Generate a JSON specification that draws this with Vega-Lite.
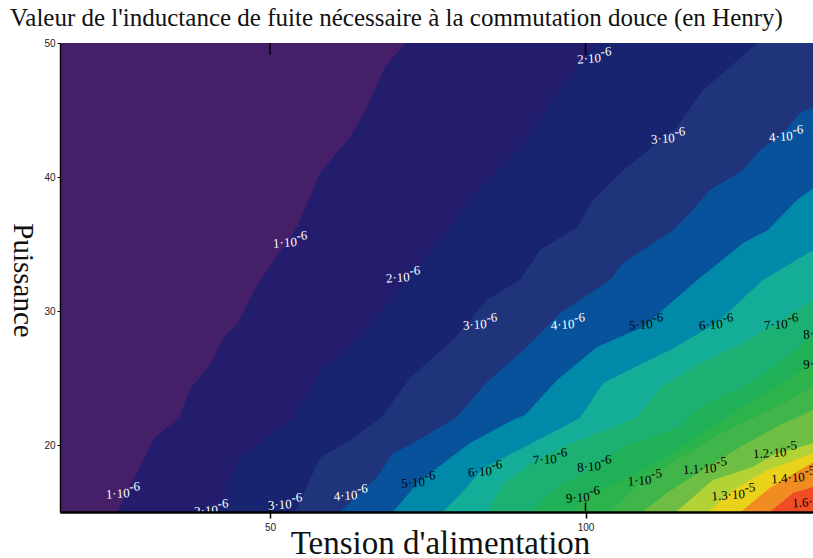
{"$schema":"https://vega.github.io/schema/vega-lite/v6.json","width":753,"height":469,"autosize":{"type":"none"},"padding":{"left":60,"top":43,"right":0,"bottom":46},"background":"white","config":{"view":{"stroke":"black","strokeWidth":1},"font":"Liberation Serif"},"title":{"text":"Valeur de l'inductance de fuite nécessaire à la commutation douce (en Henry)","font":"Liberation Serif","fontSize":25,"fontWeight":"normal","color":"#111111","anchor":"start","frame":"group","dx":-50,"dy":23,"offset":10,"baseline":"alphabetic"},
"datasets":{"bands":[
{"band":"b00","x":16.72,"y":50},{"band":"b00","x":136.05,"y":50},
{"band":"b01","x":25.75,"y":15},{"band":"b01","x":28.9,"y":17.91},{"band":"b01","x":31.5,"y":20.45},{"band":"b01","x":35.7,"y":22.09},{"band":"b01","x":37.2,"y":24.1},{"band":"b01","x":40.5,"y":25.97},{"band":"b01","x":42.6,"y":27.99},{"band":"b01","x":44.9,"y":29.1},{"band":"b01","x":47.9,"y":31.94},{"band":"b01","x":54.3,"y":36.27},{"band":"b01","x":57.9,"y":40.3},{"band":"b01","x":62.7,"y":42.99},{"band":"b01","x":65.4,"y":45.22},{"band":"b01","x":68.2,"y":48.21},{"band":"b01","x":71.4,"y":50},{"band":"b01","x":136.05,"y":50},
{"band":"b02","x":41.8,"y":15},{"band":"b02","x":45.2,"y":19.1},{"band":"b02","x":48.9,"y":20.37},{"band":"b02","x":53.6,"y":22.01},{"band":"b02","x":58.4,"y":25.75},{"band":"b02","x":64.3,"y":27.99},{"band":"b02","x":68.7,"y":30.6},{"band":"b02","x":72.2,"y":32.54},{"band":"b02","x":77.4,"y":35.52},{"band":"b02","x":82.8,"y":38.88},{"band":"b02","x":90.7,"y":42.76},{"band":"b02","x":94.8,"y":45.75},{"band":"b02","x":100.2,"y":49.1},{"band":"b02","x":101.7,"y":50},{"band":"b02","x":136.05,"y":50},
{"band":"b03","x":54,"y":15},{"band":"b03","x":57.9,"y":19.03},{"band":"b03","x":62.7,"y":20.37},{"band":"b03","x":67.7,"y":22.09},{"band":"b03","x":72.2,"y":25},{"band":"b03","x":79,"y":27.84},{"band":"b03","x":84.4,"y":30.82},{"band":"b03","x":89.6,"y":32.31},{"band":"b03","x":92.8,"y":34.55},{"band":"b03","x":98.7,"y":36.27},{"band":"b03","x":101.2,"y":38.28},{"band":"b03","x":105.5,"y":40.3},{"band":"b03","x":111.3,"y":42.54},{"band":"b03","x":114.5,"y":43.73},{"band":"b03","x":118.6,"y":46.49},{"band":"b03","x":122.9,"y":48.21},{"band":"b03","x":127.2,"y":50},{"band":"b03","x":136.05,"y":50},
{"band":"b04","x":61.1,"y":15},{"band":"b04","x":67,"y":17.61},{"band":"b04","x":69.5,"y":19.4},{"band":"b04","x":72.2,"y":20},{"band":"b04","x":79.6,"y":22.09},{"band":"b04","x":84.4,"y":24.7},{"band":"b04","x":90.7,"y":27.31},{"band":"b04","x":96,"y":29.85},{"band":"b04","x":103.9,"y":32.31},{"band":"b04","x":105.9,"y":33.58},{"band":"b04","x":113.9,"y":36.04},{"band":"b04","x":117,"y":37.54},{"band":"b04","x":119.7,"y":39.03},{"band":"b04","x":125,"y":40.52},{"band":"b04","x":127.7,"y":42.01},{"band":"b04","x":131.3,"y":43.28},{"band":"b04","x":134,"y":44.78},{"band":"b04","x":136.1,"y":45.22},
{"band":"b05","x":69.5,"y":15},{"band":"b05","x":73.5,"y":17.24},{"band":"b05","x":81.7,"y":20.15},{"band":"b05","x":88.5,"y":21.87},{"band":"b05","x":90.4,"y":22.24},{"band":"b05","x":95.5,"y":24.85},{"band":"b05","x":101.8,"y":27.31},{"band":"b05","x":109.1,"y":28.81},{"band":"b05","x":117.7,"y":32.31},{"band":"b05","x":125,"y":35.07},{"band":"b05","x":128.9,"y":36.04},{"band":"b05","x":133.5,"y":38.28},{"band":"b05","x":136.1,"y":39.18},
{"band":"b06","x":77.4,"y":15},{"band":"b06","x":81.2,"y":16.87},{"band":"b06","x":83.8,"y":18.28},{"band":"b06","x":88.5,"y":19.4},{"band":"b06","x":99.1,"y":22.01},{"band":"b06","x":102.8,"y":24.63},{"band":"b06","x":105.9,"y":25.37},{"band":"b06","x":113.4,"y":27.09},{"band":"b06","x":120.8,"y":29.1},{"band":"b06","x":128.1,"y":32.31},{"band":"b06","x":136.1,"y":34.55},
{"band":"b07","x":84.5,"y":15},{"band":"b07","x":86.9,"y":17.16},{"band":"b07","x":92.3,"y":18.88},{"band":"b07","x":96.4,"y":19.85},{"band":"b07","x":108.2,"y":22.09},{"band":"b07","x":111.8,"y":24.25},{"band":"b07","x":118.1,"y":26.12},{"band":"b07","x":125,"y":27.61},{"band":"b07","x":130.3,"y":29.1},{"band":"b07","x":136.1,"y":30.82},
{"band":"b08","x":91.2,"y":15},{"band":"b08","x":95.5,"y":16.87},{"band":"b08","x":100.7,"y":18.13},{"band":"b08","x":105.9,"y":19.85},{"band":"b08","x":115,"y":21.34},{"band":"b08","x":118.1,"y":22.84},{"band":"b08","x":125,"y":24.33},{"band":"b08","x":130.3,"y":25.97},{"band":"b08","x":136.1,"y":28.21},
{"band":"b09","x":98,"y":15},{"band":"b09","x":99.6,"y":16.12},{"band":"b09","x":107.1,"y":17.61},{"band":"b09","x":114.5,"y":19.63},{"band":"b09","x":123.4,"y":22.39},{"band":"b09","x":136.1,"y":26.12},
{"band":"b10","x":103.9,"y":15},{"band":"b10","x":109.4,"y":17.54},{"band":"b10","x":114.5,"y":18.88},{"band":"b10","x":122.4,"y":21.12},{"band":"b10","x":130.3,"y":22.84},{"band":"b10","x":136.1,"y":24.33},
{"band":"b11","x":109,"y":15},{"band":"b11","x":112.9,"y":16.42},{"band":"b11","x":118.6,"y":18.13},{"band":"b11","x":124.5,"y":19.85},{"band":"b11","x":130.8,"y":21.49},{"band":"b11","x":136.1,"y":22.61},
{"band":"b12","x":114.3,"y":15},{"band":"b12","x":120.2,"y":17.39},{"band":"b12","x":126.5,"y":18.36},{"band":"b12","x":129.7,"y":19.25},{"band":"b12","x":136.1,"y":20.15},
{"band":"b13","x":119.4,"y":15},{"band":"b13","x":123.4,"y":16.64},{"band":"b13","x":128.8,"y":18.13},{"band":"b13","x":136.1,"y":19.4},
{"band":"b14","x":124.6,"y":15},{"band":"b14","x":129.2,"y":16.79},{"band":"b14","x":136.1,"y":18.73},
{"band":"b15","x":129.2,"y":15},{"band":"b15","x":132.9,"y":16.42},{"band":"b15","x":136.1,"y":16.87}
],
"labels":[
{"level":1,"mant":"1·10","exp":"-6","x":54.3,"y":34.85},{"level":1,"mant":"1·10","exp":"-6","x":27.8,"y":16.12},
{"level":2,"mant":"2·10","exp":"-6","x":41.8,"y":14.85},{"level":2,"mant":"2·10","exp":"-6","x":72.2,"y":32.24},{"level":2,"mant":"2·10","exp":"-6","x":102.5,"y":48.58},
{"level":3,"mant":"3·10","exp":"-6","x":53.5,"y":15.3},{"level":3,"mant":"3·10","exp":"-6","x":84.4,"y":28.73},{"level":3,"mant":"3·10","exp":"-6","x":114.2,"y":42.61},
{"level":4,"mant":"4·10","exp":"-6","x":63.9,"y":15.97},{"level":4,"mant":"4·10","exp":"-6","x":98.3,"y":28.73},{"level":4,"mant":"4·10","exp":"-6","x":132.9,"y":42.76},
{"level":5,"mant":"5·10","exp":"-6","x":74.6,"y":16.94},{"level":5,"mant":"5·10","exp":"-6","x":110.7,"y":28.73},
{"level":6,"mant":"6·10","exp":"-6","x":85.2,"y":17.76},{"level":6,"mant":"6·10","exp":"-6","x":121.8,"y":28.73},
{"level":7,"mant":"7·10","exp":"-6","x":95.5,"y":18.66},{"level":7,"mant":"7·10","exp":"-6","x":132.1,"y":28.73},
{"level":8,"mant":"8·10","exp":"-6","x":102.5,"y":18.13},{"level":8,"mant":"8·10","exp":"-6","x":138.3,"y":28.06},
{"level":9,"mant":"9·10","exp":"-6","x":100.7,"y":15.82},{"level":9,"mant":"9·10","exp":"-6","x":138.3,"y":25.82},
{"level":10,"mant":"1·10","exp":"-5","x":110.5,"y":17.09},
{"level":11,"mant":"1.1·10","exp":"-5","x":120.8,"y":17.99},
{"level":12,"mant":"1.2·10","exp":"-5","x":131.9,"y":19.18},
{"level":13,"mant":"1.3·10","exp":"-5","x":125.3,"y":16.04},
{"level":14,"mant":"1.4·10","exp":"-5","x":134.8,"y":17.31},
{"level":16,"mant":"1.6·10","exp":"-5","x":138.1,"y":15.52}
],
"ticks":[{"x":50,"y":50,"yEnd":49.1},{"x":100,"y":50,"yEnd":49.1},{"x":50,"y":15,"yEnd":15.7},{"x":100,"y":15,"yEnd":15.7}]},
"encoding":{
"x":{"field":"x","type":"quantitative","scale":{"domain":[16.72,136.05],"nice":false,"zero":false},"axis":{"values":[50,100],"grid":false,"zindex":1,"domainColor":"black","domainWidth":2.5,"tickColor":"black","tickSize":6,"tickWidth":1.5,"labelFont":"Liberation Sans","labelFontSize":10,"labelColor":"#222222","labelPadding":4,"title":"Tension d'alimentation","titleFont":"Liberation Serif","titleFontSize":33,"titleFontWeight":"normal","titleColor":"#111111","titleX":380,"titleY":41,"titleBaseline":"alphabetic","titleAnchor":"middle"}},
"y":{"field":"y","type":"quantitative","scale":{"domain":[15,50],"nice":false,"zero":false},"axis":{"values":[20,30,40,50],"grid":false,"zindex":1,"domainColor":"black","domainWidth":1.5,"tickColor":"black","tickSize":3,"tickWidth":1,"labelFont":"Liberation Sans","labelFontSize":10,"labelColor":"#222222","labelPadding":2,"title":"Puissance","titleFont":"Liberation Serif","titleFontSize":29,"titleFontWeight":"normal","titleColor":"#111111","titleAngle":90,"titleX":-47,"titleY":237,"titleBaseline":"alphabetic","titleAnchor":"middle"}}
},
"layer":[
{"data":{"name":"bands"},"mark":{"type":"area","clip":true,"interpolate":"linear"},"encoding":{"y2":{"datum":15},"color":{"field":"band","type":"nominal","legend":null,"scale":{"domain":["b00","b01","b02","b03","b04","b05","b06","b07","b08","b09","b10","b11","b12","b13","b14","b15"],"range":["#452069","#241d6e","#182470","#20347b","#07529a","#0089a8","#13ad98","#1cb073","#20b158","#2cb34c","#3fb54a","#6fbe44","#b3d235","#e9d21c","#f08c21","#f04c25"]}}}},
{"data":{"name":"ticks"},"mark":{"type":"rule","color":"black","strokeWidth":1.5},"encoding":{"y2":{"field":"yEnd"}}},
{"data":{"name":"labels"},"mark":{"type":"text","clip":true,"align":"right","baseline":"alphabetic","angle":-4,"font":"Liberation Serif","fontSize":13},"encoding":{"text":{"field":"mant","type":"nominal"},"color":{"condition":{"test":"datum.level<4.5","value":"white"},"value":"black"}}},
{"data":{"name":"labels"},"mark":{"type":"text","clip":true,"align":"left","baseline":"alphabetic","angle":-4,"dy":-6,"font":"Liberation Serif","fontSize":13},"encoding":{"text":{"field":"exp","type":"nominal"},"color":{"condition":{"test":"datum.level<4.5","value":"white"},"value":"black"}}}
]}
